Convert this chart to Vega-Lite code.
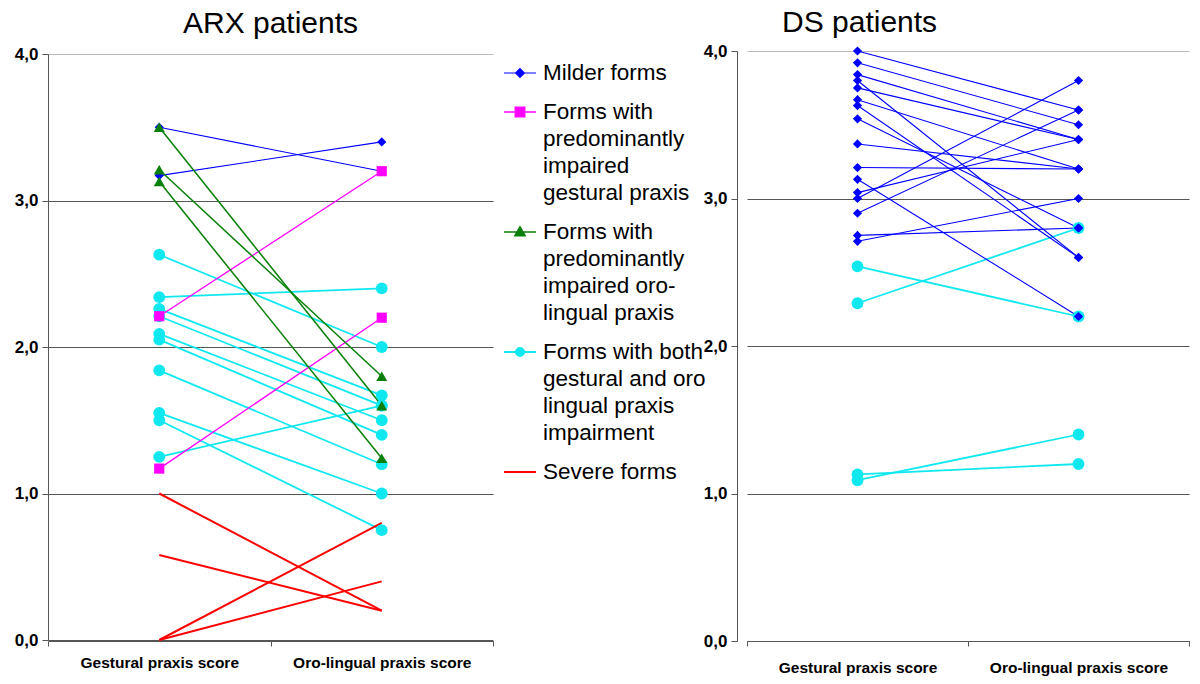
{
  "$schema": "https://vega.github.io/schema/vega-lite/v6.json",
  "background": "white",
  "padding": {"left": 14, "top": 8, "right": 0, "bottom": 0},
  "config": {"view": {"stroke": null}, "font": "Liberation Sans"},
  "data": {"values": [
    {"panel": "ARX", "patient": "a1", "form": "Milder forms", "test": "Gestural praxis score", "score": 3.50},
    {"panel": "ARX", "patient": "a1", "form": "Milder forms", "test": "Oro-lingual praxis score", "score": 3.20},
    {"panel": "ARX", "patient": "a2", "form": "Milder forms", "test": "Gestural praxis score", "score": 3.17},
    {"panel": "ARX", "patient": "a2", "form": "Milder forms", "test": "Oro-lingual praxis score", "score": 3.40},
    {"panel": "ARX", "patient": "a3", "form": "Forms with both gestural and oro lingual praxis impairment", "test": "Gestural praxis score", "score": 2.63},
    {"panel": "ARX", "patient": "a3", "form": "Forms with both gestural and oro lingual praxis impairment", "test": "Oro-lingual praxis score", "score": 2.00},
    {"panel": "ARX", "patient": "a4", "form": "Forms with both gestural and oro lingual praxis impairment", "test": "Gestural praxis score", "score": 2.34},
    {"panel": "ARX", "patient": "a4", "form": "Forms with both gestural and oro lingual praxis impairment", "test": "Oro-lingual praxis score", "score": 2.40},
    {"panel": "ARX", "patient": "a5", "form": "Forms with both gestural and oro lingual praxis impairment", "test": "Gestural praxis score", "score": 2.26},
    {"panel": "ARX", "patient": "a5", "form": "Forms with both gestural and oro lingual praxis impairment", "test": "Oro-lingual praxis score", "score": 1.67},
    {"panel": "ARX", "patient": "a6", "form": "Forms with both gestural and oro lingual praxis impairment", "test": "Gestural praxis score", "score": 2.21},
    {"panel": "ARX", "patient": "a6", "form": "Forms with both gestural and oro lingual praxis impairment", "test": "Oro-lingual praxis score", "score": 1.60},
    {"panel": "ARX", "patient": "a7", "form": "Forms with both gestural and oro lingual praxis impairment", "test": "Gestural praxis score", "score": 2.09},
    {"panel": "ARX", "patient": "a7", "form": "Forms with both gestural and oro lingual praxis impairment", "test": "Oro-lingual praxis score", "score": 1.50},
    {"panel": "ARX", "patient": "a8", "form": "Forms with both gestural and oro lingual praxis impairment", "test": "Gestural praxis score", "score": 2.05},
    {"panel": "ARX", "patient": "a8", "form": "Forms with both gestural and oro lingual praxis impairment", "test": "Oro-lingual praxis score", "score": 1.40},
    {"panel": "ARX", "patient": "a9", "form": "Forms with both gestural and oro lingual praxis impairment", "test": "Gestural praxis score", "score": 1.84},
    {"panel": "ARX", "patient": "a9", "form": "Forms with both gestural and oro lingual praxis impairment", "test": "Oro-lingual praxis score", "score": 1.20},
    {"panel": "ARX", "patient": "a10", "form": "Forms with both gestural and oro lingual praxis impairment", "test": "Gestural praxis score", "score": 1.55},
    {"panel": "ARX", "patient": "a10", "form": "Forms with both gestural and oro lingual praxis impairment", "test": "Oro-lingual praxis score", "score": 1.00},
    {"panel": "ARX", "patient": "a11", "form": "Forms with both gestural and oro lingual praxis impairment", "test": "Gestural praxis score", "score": 1.50},
    {"panel": "ARX", "patient": "a11", "form": "Forms with both gestural and oro lingual praxis impairment", "test": "Oro-lingual praxis score", "score": 0.75},
    {"panel": "ARX", "patient": "a12", "form": "Forms with both gestural and oro lingual praxis impairment", "test": "Gestural praxis score", "score": 1.25},
    {"panel": "ARX", "patient": "a12", "form": "Forms with both gestural and oro lingual praxis impairment", "test": "Oro-lingual praxis score", "score": 1.60},
    {"panel": "ARX", "patient": "a13", "form": "Forms with predominantly impaired gestural praxis", "test": "Gestural praxis score", "score": 2.21},
    {"panel": "ARX", "patient": "a13", "form": "Forms with predominantly impaired gestural praxis", "test": "Oro-lingual praxis score", "score": 3.20},
    {"panel": "ARX", "patient": "a14", "form": "Forms with predominantly impaired gestural praxis", "test": "Gestural praxis score", "score": 1.17},
    {"panel": "ARX", "patient": "a14", "form": "Forms with predominantly impaired gestural praxis", "test": "Oro-lingual praxis score", "score": 2.20},
    {"panel": "ARX", "patient": "a15", "form": "Forms with predominantly impaired oro-lingual praxis", "test": "Gestural praxis score", "score": 3.50},
    {"panel": "ARX", "patient": "a15", "form": "Forms with predominantly impaired oro-lingual praxis", "test": "Oro-lingual praxis score", "score": 1.60},
    {"panel": "ARX", "patient": "a16", "form": "Forms with predominantly impaired oro-lingual praxis", "test": "Gestural praxis score", "score": 3.21},
    {"panel": "ARX", "patient": "a16", "form": "Forms with predominantly impaired oro-lingual praxis", "test": "Oro-lingual praxis score", "score": 1.80},
    {"panel": "ARX", "patient": "a17", "form": "Forms with predominantly impaired oro-lingual praxis", "test": "Gestural praxis score", "score": 3.13},
    {"panel": "ARX", "patient": "a17", "form": "Forms with predominantly impaired oro-lingual praxis", "test": "Oro-lingual praxis score", "score": 1.24},
    {"panel": "ARX", "patient": "a18", "form": "Severe forms", "test": "Gestural praxis score", "score": 1.00},
    {"panel": "ARX", "patient": "a18", "form": "Severe forms", "test": "Oro-lingual praxis score", "score": 0.20},
    {"panel": "ARX", "patient": "a19", "form": "Severe forms", "test": "Gestural praxis score", "score": 0.58},
    {"panel": "ARX", "patient": "a19", "form": "Severe forms", "test": "Oro-lingual praxis score", "score": 0.20},
    {"panel": "ARX", "patient": "a20", "form": "Severe forms", "test": "Gestural praxis score", "score": 0.00},
    {"panel": "ARX", "patient": "a20", "form": "Severe forms", "test": "Oro-lingual praxis score", "score": 0.80},
    {"panel": "ARX", "patient": "a21", "form": "Severe forms", "test": "Gestural praxis score", "score": 0.00},
    {"panel": "ARX", "patient": "a21", "form": "Severe forms", "test": "Oro-lingual praxis score", "score": 0.40},
    {"panel": "DS", "patient": "d17", "form": "Forms with both gestural and oro lingual praxis impairment", "test": "Gestural praxis score", "score": 2.54},
    {"panel": "DS", "patient": "d17", "form": "Forms with both gestural and oro lingual praxis impairment", "test": "Oro-lingual praxis score", "score": 2.20},
    {"panel": "DS", "patient": "d18", "form": "Forms with both gestural and oro lingual praxis impairment", "test": "Gestural praxis score", "score": 2.29},
    {"panel": "DS", "patient": "d18", "form": "Forms with both gestural and oro lingual praxis impairment", "test": "Oro-lingual praxis score", "score": 2.80},
    {"panel": "DS", "patient": "d19", "form": "Forms with both gestural and oro lingual praxis impairment", "test": "Gestural praxis score", "score": 1.13},
    {"panel": "DS", "patient": "d19", "form": "Forms with both gestural and oro lingual praxis impairment", "test": "Oro-lingual praxis score", "score": 1.20},
    {"panel": "DS", "patient": "d20", "form": "Forms with both gestural and oro lingual praxis impairment", "test": "Gestural praxis score", "score": 1.09},
    {"panel": "DS", "patient": "d20", "form": "Forms with both gestural and oro lingual praxis impairment", "test": "Oro-lingual praxis score", "score": 1.40},
    {"panel": "DS", "patient": "d1", "form": "Milder forms", "test": "Gestural praxis score", "score": 4.00},
    {"panel": "DS", "patient": "d1", "form": "Milder forms", "test": "Oro-lingual praxis score", "score": 3.60},
    {"panel": "DS", "patient": "d2", "form": "Milder forms", "test": "Gestural praxis score", "score": 3.92},
    {"panel": "DS", "patient": "d2", "form": "Milder forms", "test": "Oro-lingual praxis score", "score": 3.50},
    {"panel": "DS", "patient": "d3", "form": "Milder forms", "test": "Gestural praxis score", "score": 3.84},
    {"panel": "DS", "patient": "d3", "form": "Milder forms", "test": "Oro-lingual praxis score", "score": 3.40},
    {"panel": "DS", "patient": "d4", "form": "Milder forms", "test": "Gestural praxis score", "score": 3.80},
    {"panel": "DS", "patient": "d4", "form": "Milder forms", "test": "Oro-lingual praxis score", "score": 2.60},
    {"panel": "DS", "patient": "d5", "form": "Milder forms", "test": "Gestural praxis score", "score": 3.75},
    {"panel": "DS", "patient": "d5", "form": "Milder forms", "test": "Oro-lingual praxis score", "score": 3.40},
    {"panel": "DS", "patient": "d6", "form": "Milder forms", "test": "Gestural praxis score", "score": 3.67},
    {"panel": "DS", "patient": "d6", "form": "Milder forms", "test": "Oro-lingual praxis score", "score": 3.20},
    {"panel": "DS", "patient": "d7", "form": "Milder forms", "test": "Gestural praxis score", "score": 3.63},
    {"panel": "DS", "patient": "d7", "form": "Milder forms", "test": "Oro-lingual praxis score", "score": 2.60},
    {"panel": "DS", "patient": "d8", "form": "Milder forms", "test": "Gestural praxis score", "score": 3.54},
    {"panel": "DS", "patient": "d8", "form": "Milder forms", "test": "Oro-lingual praxis score", "score": 2.80},
    {"panel": "DS", "patient": "d9", "form": "Milder forms", "test": "Gestural praxis score", "score": 3.37},
    {"panel": "DS", "patient": "d9", "form": "Milder forms", "test": "Oro-lingual praxis score", "score": 3.20},
    {"panel": "DS", "patient": "d10", "form": "Milder forms", "test": "Gestural praxis score", "score": 3.21},
    {"panel": "DS", "patient": "d10", "form": "Milder forms", "test": "Oro-lingual praxis score", "score": 3.20},
    {"panel": "DS", "patient": "d11", "form": "Milder forms", "test": "Gestural praxis score", "score": 3.13},
    {"panel": "DS", "patient": "d11", "form": "Milder forms", "test": "Oro-lingual praxis score", "score": 2.20},
    {"panel": "DS", "patient": "d12", "form": "Milder forms", "test": "Gestural praxis score", "score": 3.04},
    {"panel": "DS", "patient": "d12", "form": "Milder forms", "test": "Oro-lingual praxis score", "score": 3.40},
    {"panel": "DS", "patient": "d13", "form": "Milder forms", "test": "Gestural praxis score", "score": 3.00},
    {"panel": "DS", "patient": "d13", "form": "Milder forms", "test": "Oro-lingual praxis score", "score": 3.80},
    {"panel": "DS", "patient": "d14", "form": "Milder forms", "test": "Gestural praxis score", "score": 2.90},
    {"panel": "DS", "patient": "d14", "form": "Milder forms", "test": "Oro-lingual praxis score", "score": 3.60},
    {"panel": "DS", "patient": "d15", "form": "Milder forms", "test": "Gestural praxis score", "score": 2.75},
    {"panel": "DS", "patient": "d15", "form": "Milder forms", "test": "Oro-lingual praxis score", "score": 2.80},
    {"panel": "DS", "patient": "d16", "form": "Milder forms", "test": "Gestural praxis score", "score": 2.71},
    {"panel": "DS", "patient": "d16", "form": "Milder forms", "test": "Oro-lingual praxis score", "score": 3.00}
  ]},
  "spacing": 209,
  "resolve": {"scale": {"x": "independent", "y": "independent", "color": "shared", "shape": "shared", "size": "shared", "strokeWidth": "shared"}},
  "hconcat": [
    {
      "width": 445,
      "height": 590,
      "title": {"text": "ARX patients", "font": "Liberation Sans", "fontSize": 30, "fontWeight": "normal", "color": "black", "offset": 6},
      "transform": [{"filter": "datum.panel === 'ARX'"}],
      "encoding": {
        "x": {"field": "test", "type": "nominal",
          "scale": {"type": "band", "domain": ["Gestural praxis score", "Oro-lingual praxis score"], "paddingInner": 0, "paddingOuter": 0},
          "axis": {"title": null, "labelAngle": 0, "labelFont": "Liberation Sans", "labelFontSize": 15.5, "labelFontWeight": "bold", "labelColor": "black", "labelPadding": 9, "tickBand": "extent", "tickSize": 5, "tickColor": "#555", "domainColor": "#555", "grid": false}},
        "y": {"field": "score", "type": "quantitative",
          "scale": {"domain": [0, 4], "range": [589, 3]},
          "axis": {"title": null, "values": [0, 1, 2, 3, 4], "labelExpr": "replace(format(datum.value, '.1f'), '.', ',')", "labelFont": "Liberation Sans", "labelFontSize": 17, "labelFontWeight": "bold", "labelColor": "black", "labelPadding": 4, "tickSize": 6, "tickColor": "#555", "domainColor": "#555", "grid": true, "gridOpacity": 1, "gridColor": {"condition": {"test": "datum.value === 4", "value": "#bbbbbb"}, "value": "#555555"}}}
      },
      "layer": [
        {
          "mark": {"type": "line"},
          "encoding": {
            "color": {"field": "form", "type": "nominal",
              "scale": {"domain": ["Milder forms", "Forms with predominantly impaired gestural praxis", "Forms with predominantly impaired oro-lingual praxis", "Forms with both gestural and oro lingual praxis impairment", "Severe forms"], "range": ["#0000ff", "#ff00ff", "#0a800a", "#10e8f0", "#ff0000"]},
              "legend": {
                "orient": "none", "legendX": 455, "legendY": 5, "title": null,
                "labelFont": "Liberation Sans", "labelFontSize": 22.5, "labelColor": "black", "labelLimit": 400,
                "symbolSize": 1024, "symbolStrokeWidth": 2, "rowPadding": 10, "labelOffset": 6,
                "labelExpr": "datum.label === 'Milder forms' ? 'Milder forms' : datum.label === 'Severe forms' ? 'Severe forms' : indexof(datum.label, 'gestural praxis') > 0 ? ['Forms with', 'predominantly', 'impaired', 'gestural praxis'] : indexof(datum.label, 'oro-lingual') > 0 ? ['Forms with', 'predominantly', 'impaired oro-', 'lingual praxis'] : ['Forms with both', 'gestural and oro', 'lingual praxis', 'impairment']",
                "encode": {
                  "labels": {"update": {"lineHeight": {"value": 27}}},
                  "symbols": {"update": {
                    "shape": {"signal": "datum.value === 'Milder forms' ? 'M-1,0H1M0,-0.28L0.28,0L0,0.28L-0.28,0Z' : datum.value === 'Severe forms' ? 'M-1,0H1' : indexof(datum.value, 'gestural praxis') > 0 ? 'M-1,0H1M-0.3,-0.3H0.3V0.3H-0.3Z' : indexof(datum.value, 'oro-lingual') > 0 ? 'M-1,0H1M0,-0.32L0.32,0.24L-0.32,0.24Z' : 'M-1,0H1M0.26,0A0.26,0.26 0 1 1 -0.26,0A0.26,0.26 0 1 1 0.26,0Z'"},
                    "fill": {"signal": "scale('color', datum.value)"},
                    "opacity": {"value": 1}
                  }}
                }
              }},
            "detail": {"field": "patient"},
            "strokeWidth": {"field": "form", "type": "nominal", "scale": {"domain": ["Milder forms", "Forms with predominantly impaired gestural praxis", "Forms with predominantly impaired oro-lingual praxis", "Forms with both gestural and oro lingual praxis impairment", "Severe forms"], "range": [1.1, 2, 2, 2, 2.6]}, "legend": null}
          }
        },
        {
          "transform": [{"filter": "datum.form !== 'Severe forms'"}],
          "mark": {"type": "point", "filled": true, "opacity": 1},
          "encoding": {
            "color": {"field": "form", "type": "nominal", "legend": null},
            "shape": {"field": "form", "type": "nominal", "scale": {"domain": ["Milder forms", "Forms with predominantly impaired gestural praxis", "Forms with predominantly impaired oro-lingual praxis", "Forms with both gestural and oro lingual praxis impairment"], "range": ["diamond", "square", "triangle-up", "circle"]}, "legend": null},
            "size": {"field": "form", "type": "nominal", "scale": {"domain": ["Milder forms", "Forms with predominantly impaired gestural praxis", "Forms with predominantly impaired oro-lingual praxis", "Forms with both gestural and oro lingual praxis impairment"], "range": [85, 140, 120, 62]}, "legend": null}
          }
        }
      ]
    },
    {
      "width": 452,
      "height": 590,
      "title": {"text": "DS patients", "font": "Liberation Sans", "fontSize": 30, "fontWeight": "normal", "color": "black", "offset": 4, "anchor": "start", "frame": "group", "dx": 45},
      "transform": [{"filter": "datum.panel === 'DS'"}],
      "encoding": {
        "x": {"field": "test", "type": "nominal",
          "scale": {"type": "band", "domain": ["Gestural praxis score", "Oro-lingual praxis score"], "paddingInner": 0, "paddingOuter": 0, "range": [10, 452]},
          "axis": {"title": null, "labelAngle": 0, "labelFont": "Liberation Sans", "labelFontSize": 15.5, "labelFontWeight": "bold", "labelColor": "black", "labelPadding": 14, "tickBand": "extent", "tickSize": 5, "tickColor": "#555", "domainColor": "#555", "grid": false}},
        "y": {"field": "score", "type": "quantitative",
          "scale": {"domain": [0, 4]},
          "axis": {"title": null, "values": [0, 1, 2, 3, 4], "labelExpr": "replace(format(datum.value, '.1f'), '.', ',')", "labelFont": "Liberation Sans", "labelFontSize": 17, "labelFontWeight": "bold", "labelColor": "black", "labelPadding": 4, "tickSize": 6, "tickColor": "#555", "domainColor": "#555", "grid": true, "gridOpacity": 1, "gridColor": {"condition": {"test": "datum.value === 4", "value": "#bbbbbb"}, "value": "#555555"}}}
      },
      "layer": [
        {
          "mark": {"type": "line"},
          "encoding": {
            "color": {"field": "form", "type": "nominal"},
            "detail": {"field": "patient"},
            "strokeWidth": {"field": "form", "type": "nominal", "legend": null}
          }
        },
        {
          "mark": {"type": "point", "filled": true, "opacity": 1},
          "encoding": {
            "color": {"field": "form", "type": "nominal", "legend": null},
            "shape": {"field": "form", "type": "nominal", "legend": null},
            "size": {"field": "form", "type": "nominal", "legend": null}
          }
        }
      ]
    }
  ]
}
